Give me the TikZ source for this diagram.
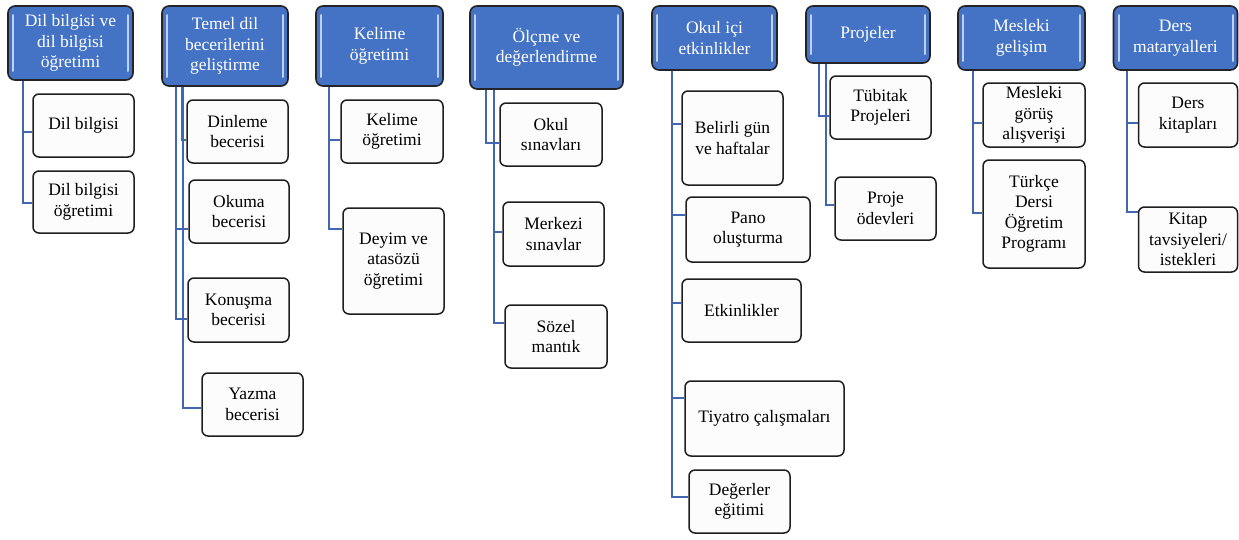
\documentclass[tikz,border=0pt]{standalone}
\usepackage{fontspec}
\setmainfont{Liberation Serif}
\definecolor{hblue}{RGB}{68,114,196}
\definecolor{hlight}{RGB}{190,210,240}
\definecolor{hborder}{RGB}{35,35,40}
\definecolor{connblue}{RGB}{66,102,176}
\definecolor{cborder}{RGB}{30,30,30}
\definecolor{cfill}{RGB}{252,252,252}
\tikzset{
  hd/.style={draw=hborder, line width=1.6pt, fill=hblue, rounded corners=7pt,
    text=white, align=center, inner sep=2pt,
    font=\fontsize{17.5}{20.5}\selectfont,
    path picture={
      \draw[hlight, line width=2pt, line cap=round]
        ([xshift=5pt,yshift=-9pt]path picture bounding box.north west) --
        ([xshift=5pt,yshift=9pt]path picture bounding box.south west);
      \draw[hlight, line width=2pt, line cap=round]
        ([xshift=-5pt,yshift=-9pt]path picture bounding box.north east) --
        ([xshift=-5pt,yshift=9pt]path picture bounding box.south east);
    }},
  ch/.style={draw=cborder, line width=1.5pt, fill=cfill, rounded corners=6pt,
    text=black, align=center, inner sep=2pt,
    font=\fontsize{17.5}{20.5}\selectfont},
  conn/.style={draw=connblue, line width=2pt}
}
\begin{document}
\begin{tikzpicture}[x=1pt,y=-1pt]
\useasboundingbox (0,0) rectangle (1239,539);
% connectors (drawn first, boxes on top)
\coordinate (o) at (0,0);
% headers
\node[hd, minimum width=125pt, minimum height=74pt] (h1) at (70.5,43) {Dil bilgisi ve\\dil bilgisi\\öğretimi};
\node[hd, minimum width=126pt, minimum height=80pt] (h2) at (225,46) {Temel dil\\becerilerini\\geliştirme};
\node[hd, minimum width=127pt, minimum height=80pt] (h3) at (379.5,46) {Kelime\\öğretimi};
\node[hd, minimum width=153pt, minimum height=83pt] (h4) at (546.5,47.5) {Ölçme ve\\değerlendirme};
\node[hd, minimum width=125pt, minimum height=64pt] (h5) at (714.5,38) {Okul içi\\etkinlikler};
\node[hd, minimum width=124pt, minimum height=57pt] (h6) at (868,34.5) {Projeler};
\node[hd, minimum width=127pt, minimum height=64pt] (h7) at (1021.5,38) {Mesleki\\gelişim};
\node[hd, minimum width=124pt, minimum height=64pt] (h8) at (1175.5,38) {Ders\\mataryalleri};
% children
\node[ch, minimum width=101pt, minimum height=63pt] (c11) at (83.5,125.5) {Dil bilgisi};
\node[ch, minimum width=101pt, minimum height=62pt] (c12) at (83.5,202) {Dil bilgisi\\öğretimi};
\node[ch, minimum width=101pt, minimum height=63pt] (c21) at (237.5,131.5) {Dinleme\\becerisi};
\node[ch, minimum width=100pt, minimum height=63pt] (c22) at (239,211.5) {Okuma\\becerisi};
\node[ch, minimum width=101pt, minimum height=64pt] (c23) at (238.5,310) {Konuşma\\becerisi};
\node[ch, minimum width=101pt, minimum height=63pt] (c24) at (252.5,404.5) {Yazma\\becerisi};
\node[ch, minimum width=102pt, minimum height=63pt] (c31) at (392,131.5) {Kelime\\öğretimi};
\node[ch, minimum width=101pt, minimum height=106pt] (c32) at (393.5,261) {Deyim ve\\atasözü\\öğretimi};
\node[ch, minimum width=102pt, minimum height=63pt] (c41) at (551,134.5) {Okul\\sınavları};
\node[ch, minimum width=101pt, minimum height=64pt] (c42) at (553.5,234) {Merkezi\\sınavlar};
\node[ch, minimum width=102pt, minimum height=63pt] (c43) at (556,336.5) {Sözel\\mantık};
\node[ch, minimum width=101pt, minimum height=94pt] (c51) at (732.5,138) {Belirli gün\\ve haftalar};
\node[ch, minimum width=124pt, minimum height=65pt] (c52) at (748,229.5) {Pano\\oluşturma};
\node[ch, minimum width=119pt, minimum height=63pt] (c53) at (741.5,310.5) {Etkinlikler};
\node[ch, minimum width=159pt, minimum height=75pt] (c54) at (764.5,418.5) {Tiyatro çalışmaları};
\node[ch, minimum width=101pt, minimum height=63pt] (c55) at (739.5,501.5) {Değerler\\eğitimi};
\node[ch, minimum width=101pt, minimum height=63pt] (c61) at (880.5,107.5) {Tübitak\\Projeleri};
\node[ch, minimum width=101pt, minimum height=63pt] (c62) at (885.5,208.5) {Proje\\ödevleri};
\node[ch, minimum width=102pt, minimum height=64pt] (c71) at (1034,115) {Mesleki\\görüş\\alışverişi};
\node[ch, minimum width=102pt, minimum height=108pt] (c72) at (1034,214) {Türkçe\\Dersi\\Öğretim\\Programı};
\node[ch, minimum width=99pt, minimum height=64pt] (c81) at (1188,115) {Ders\\kitapları};
\node[ch, minimum width=99pt, minimum height=65pt] (c82) at (1188,239.5) {Kitap\\tavsiyeleri/\\istekleri};
% connectors
\draw[conn] (h1.south -| 23,0) |- (c11.west |- 0,132);
\draw[conn] (h1.south -| 23,0) |- (c12.west |- 0,203);
\draw[conn] (h2.south -| 182,0) |- (c21.west |- 0,140);
\draw[conn] (h2.south -| 176,0) |- (c22.west |- 0,229);
\draw[conn] (h2.south -| 176,0) |- (c23.west |- 0,319);
\draw[conn] (h2.south -| 183,0) |- (c24.west |- 0,408);
\draw[conn] (h3.south -| 329,0) |- (c31.west |- 0,140);
\draw[conn] (h3.south -| 329,0) |- (c32.west |- 0,229);
\draw[conn] (h4.south -| 486,0) |- (c41.west |- 0,143);
\draw[conn] (h4.south -| 494,0) |- (c42.west |- 0,232);
\draw[conn] (h4.south -| 494,0) |- (c43.west |- 0,323);
\draw[conn] (h5.south -| 672,0) |- (c51.west |- 0,124);
\draw[conn] (h5.south -| 672,0) |- (c52.west |- 0,215);
\draw[conn] (h5.south -| 672,0) |- (c53.west |- 0,303);
\draw[conn] (h5.south -| 672,0) |- (c54.west |- 0,398);
\draw[conn] (h5.south -| 672,0) |- (c55.west |- 0,497);
\draw[conn] (h6.south -| 819,0) |- (c61.west |- 0,116);
\draw[conn] (h6.south -| 826,0) |- (c62.west |- 0,205);
\draw[conn] (h7.south -| 973,0) |- (c71.west |- 0,123);
\draw[conn] (h7.south -| 973,0) |- (c72.west |- 0,213);
\draw[conn] (h8.south -| 1127,0) |- (c81.west |- 0,123);
\draw[conn] (h8.south -| 1127,0) |- (c82.west |- 0,212);
\end{tikzpicture}
\end{document}
